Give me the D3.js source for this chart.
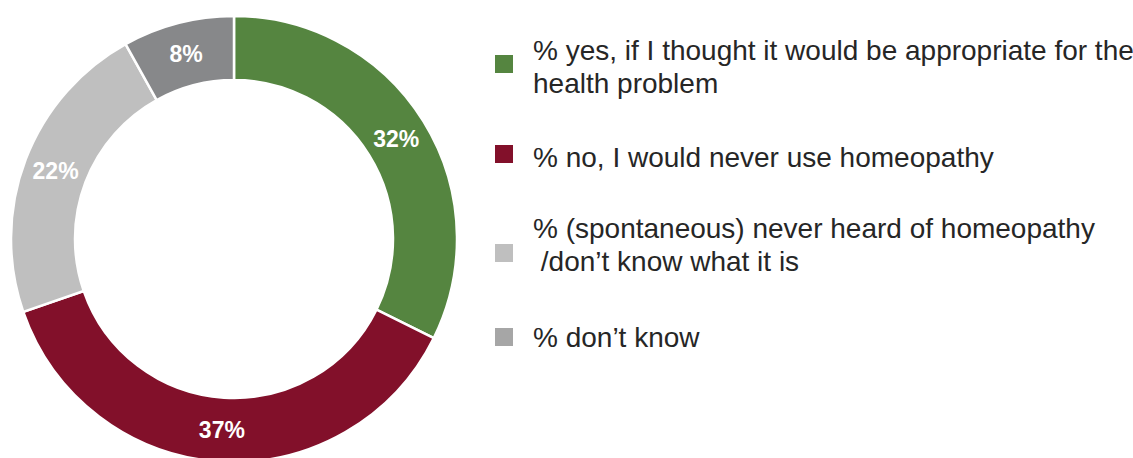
<!DOCTYPE html>
<html>
<head>
<meta charset="utf-8">
<script src="https://cdn.jsdelivr.net/npm/d3@7"></script>
<style>
  html, body { margin: 0; padding: 0; background: #ffffff; }
  svg { display: block; }
</style>
</head>
<body>
<svg id="chart" width="1133" height="458"></svg>
<script>
// Survey answers: would you use homeopathy?
const categories = [
  "% yes, if I thought it would be appropriate for the|health problem",
  "% no, I would never use homeopathy",
  "% (spontaneous) never heard of homeopathy| /don\u2019t know what it is",
  "% don\u2019t know"
];
const values = [32, 37, 22, 8];
const sliceColors = ["#558540", "#82102a", "#bfbfbf", "#87888a"];
const legendColors = ["#558540", "#82102a", "#bfbfbf", "#a6a6a6"];

const svg = d3.select("#chart");

// Donut geometry
const cx = 234, cy = 239;
const outerR = 223, innerR = 159;

const pie = d3.pie().sort(null).value(d => d);
const arcs = pie(values);
const arc = d3.arc().innerRadius(innerR).outerRadius(outerR);

const g = svg.append("g").attr("transform", `translate(${cx},${cy})`);

g.selectAll("path.slice")
  .data(arcs)
  .join("path")
  .attr("class", "slice")
  .attr("d", arc)
  .attr("fill", (d, i) => sliceColors[i])
  .attr("stroke", "#ffffff")
  .attr("stroke-width", 2.5)
  .attr("stroke-linejoin", "miter");

g.selectAll("text.pct")
  .data(arcs)
  .join("text")
  .attr("class", "pct")
  .attr("transform", d => `translate(${arc.centroid(d)})`)
  .attr("text-anchor", "middle")
  .attr("dy", "0.36em")
  .attr("font-family", "Liberation Sans, Arial, sans-serif")
  .attr("font-weight", "bold")
  .attr("font-size", 23)
  .attr("fill", "#ffffff")
  .text(d => d.data + "%");

// Legend
const legendX = 495, textX = 533, sq = 18, lineH = 33;
const itemLayout = [
  { squareY: 55,  baseline: 60 },
  { squareY: 145, baseline: 167 },
  { squareY: 244, baseline: 238 },
  { squareY: 328, baseline: 347 }
];

const legend = svg.append("g");
categories.forEach((label, i) => {
  legend.append("rect")
    .attr("x", legendX)
    .attr("y", itemLayout[i].squareY)
    .attr("width", sq)
    .attr("height", sq)
    .attr("fill", legendColors[i]);
  const t = legend.append("text")
    .attr("x", textX)
    .attr("y", itemLayout[i].baseline)
    .attr("font-family", "Liberation Sans, Arial, sans-serif")
    .attr("font-size", 28)
    .attr("fill", "#262626");
  label.split("|").forEach((line, j) => {
    t.append("tspan")
      .attr("x", textX)
      .attr("dy", j === 0 ? 0 : lineH)
      .attr("xml:space", "preserve")
      .style("white-space", "pre")
      .text(line);
  });
});
</script>
</body>
</html>
